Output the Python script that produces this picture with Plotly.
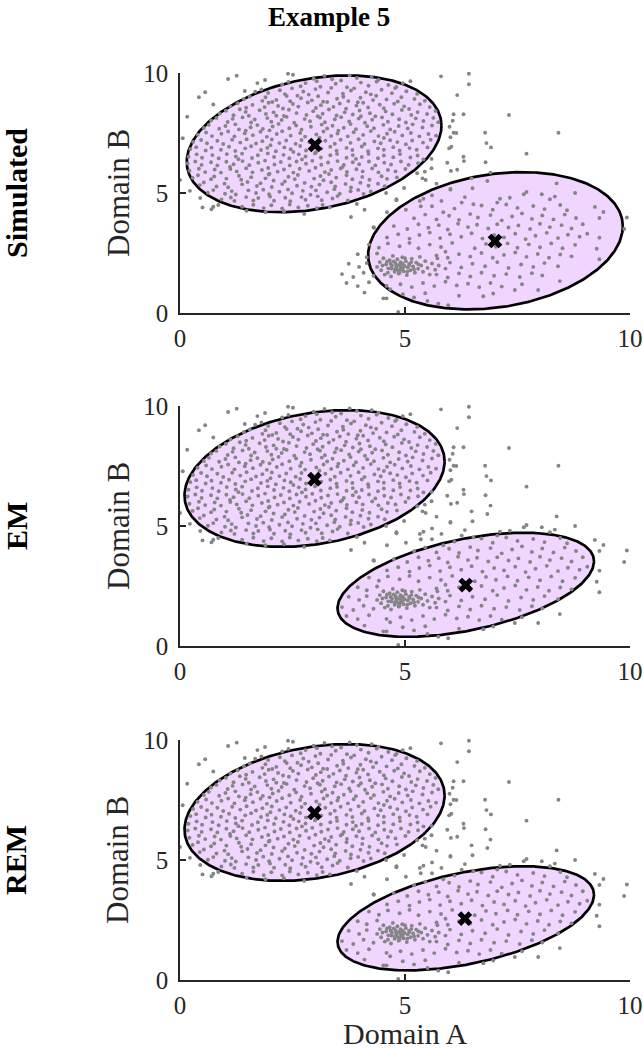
import numpy as np
import plotly.graph_objects as go
from plotly.subplots import make_subplots

# ---------------- data ----------------
cluster_a = [
    (1.07,9.75),(1.26,9.89),(1.89,9.71),(2.40,9.97),(2.51,9.93),(2.97,9.76),(3.21,9.88),(3.38,9.74),(3.77,9.9),(3.93,9.79),(4.26,9.83),(4.41,9.72),
    (2.27,9.52),(2.41,9.63),(2.68,9.45),(2.79,9.58),(3.04,9.66),(3.12,9.43),(3.46,9.55),(3.58,9.69),(3.71,9.41),(4.02,9.6),(4.19,9.47),(4.37,9.64),(4.63,9.5),(4.81,9.42),(4.95,9.58),(5.8,9.86),(6.42,9.97),(6.42,9.53),(1.72,9.58),(1.44,9.25),(1.67,9.22),(5.12,9.66),
    (1.81,9.31),(1.96,9.17),(2.22,9.28),(2.33,9.12),(2.49,9.36),(2.74,9.23),(2.86,9.1),(3.01,9.33),(3.29,9.19),(3.36,9.38),(3.62,9.14),(3.8,9.27),(3.87,9.36),(4.13,9.2),(4.24,9.11),(4.48,9.3),(4.71,9.16),(4.78,9.37),(5.03,9.24),(5.27,9.13),(0.42,8.99),(0.56,9.2),(6.16,9.08),(2.61,9.05),
    (1.42,8.91),(1.55,9.02),(1.83,8.84),(1.9,8.99),(2.14,8.88),(2.37,9.04),(2.45,8.82),(2.69,8.95),(2.93,8.86),(3.07,9.03),(3.18,8.8),(3.49,8.93),(3.63,9.01),(3.74,8.83),(4.01,8.97),(4.29,8.87),(4.36,9.05),(4.59,8.9),(4.84,8.81),(4.92,8.99),(5.21,8.92),(5.44,8.84),(2.05,8.79),(3.95,8.78),
    (0.74,8.69),(1.12,8.61),(1.28,8.74),(1.47,8.55),(1.61,8.67),(1.88,8.58),(1.97,8.76),(2.18,8.63),(2.29,8.52),(2.51,8.71),(2.63,8.6),(2.84,8.77),(3.02,8.54),(3.13,8.66),(3.41,8.59),(3.55,8.73),(3.69,8.51),(3.92,8.64),(4.07,8.76),(4.18,8.56),(4.44,8.68),(4.53,8.53),(4.76,8.72),(4.98,8.61),(5.09,8.5),(5.33,8.7),(5.55,8.58),(3.27,8.79),
    (0.16,8.18),(0.88,8.31),(1.02,8.43),(1.19,8.24),(1.46,8.38),(1.53,8.22),(1.77,8.45),(1.91,8.29),(2.08,8.36),(2.31,8.21),(2.42,8.47),(2.59,8.33),(2.81,8.25),(2.96,8.41),(3.17,8.3),(3.31,8.48),(3.48,8.23),(3.66,8.36),(3.84,8.27),(3.99,8.44),(4.22,8.32),(4.34,8.2),(4.57,8.4),(4.72,8.28),(4.93,8.46),(5.14,8.25),(5.28,8.37),(5.49,8.29),(5.68,8.42),(6.08,8.28),(6.3,8.28),(6.06,8.01),(1.33,8.49),(3.06,8.2),
    (0.69,8.02),(0.81,8.13),(1.06,7.96),(1.17,8.09),(1.39,8.15),(1.58,7.94),(1.66,8.06),(1.94,8.12),(2.03,7.97),(2.26,8.04),(2.37,8.17),(2.54,7.93),(2.77,8.08),(2.89,7.99),(3.11,8.14),(3.22,7.95),(3.44,8.07),(3.58,8.16),(3.76,7.98),(3.97,8.1),(4.11,7.93),(4.27,8.05),(4.49,8.15),(4.62,7.97),(4.87,8.07),(5.02,7.94),(5.24,8.11),(5.41,8.0),(5.63,8.13),(5.74,7.95),(2.14,8.22),(4.02,8.2),
    (0.53,7.71),(0.64,7.84),(0.87,7.68),(1.01,7.79),(1.23,7.86),(1.31,7.65),(1.57,7.74),(1.72,7.83),(1.84,7.67),(2.06,7.77),(2.19,7.88),(2.43,7.7),(2.58,7.81),(2.7,7.64),(2.91,7.76),(3.15,7.85),(3.27,7.69),(3.39,7.8),(3.64,7.72),(3.79,7.87),(3.91,7.66),(4.16,7.78),(4.31,7.7),(4.52,7.84),(4.67,7.65),(4.86,7.79),(5.06,7.69),(5.17,7.86),(5.39,7.73),(5.6,7.81),(5.99,7.76),(6.08,7.51),(6.14,7.5),(1.46,7.6),(3.52,7.6),
    (0.39,7.43),(0.58,7.52),(0.71,7.37),(0.92,7.47),(1.07,7.56),(1.21,7.36),(1.44,7.49),(1.62,7.41),(1.79,7.55),(1.93,7.34),(2.15,7.46),(2.27,7.57),(2.46,7.39),(2.67,7.5),(2.78,7.35),(3.03,7.44),(3.19,7.56),(3.36,7.38),(3.5,7.48),(3.73,7.36),(3.86,7.53),(4.07,7.42),(4.24,7.58),(4.41,7.37),(4.6,7.47),(4.77,7.55),(4.94,7.4),(5.13,7.5),(5.32,7.36),(5.52,7.46),(5.69,7.39),(6.01,7.32),(1.99,7.61),(3.1,7.3),(4.53,7.29),
    (0.06,7.28),(0.29,7.13),(0.47,7.21),(0.6,7.07),(0.83,7.18),(0.96,7.04),(1.16,7.22),(1.34,7.1),(1.48,7.24),(1.69,7.06),(1.83,7.16),(2.04,7.23),(2.21,7.08),(2.36,7.19),(2.57,7.05),(2.7,7.21),(2.88,7.11),(3.23,7.18),(3.44,7.05),(3.57,7.22),(3.79,7.09),(3.97,7.24),(4.1,7.04),(4.32,7.15),(4.46,7.07),(4.67,7.2),(4.83,7.12),(5.02,7.03),(5.16,7.19),(5.4,7.1),(5.57,7.22),(6.03,6.93),(5.98,6.86),
    (0.23,6.83),(0.36,6.91),(0.57,6.77),(0.7,6.89),(0.91,6.8),(1.09,6.93),(1.23,6.75),(1.45,6.86),(1.58,6.95),(1.8,6.79),(1.94,6.88),(2.13,6.74),(2.32,6.9),(2.46,6.82),(2.67,6.96),(2.8,6.77),(3.14,6.85),(3.34,6.93),(3.48,6.76),(3.7,6.88),(3.83,6.79),(4.04,6.94),(4.18,6.74),(4.4,6.86),(4.53,6.8),(4.74,6.91),(4.88,6.77),(5.1,6.87),(5.26,6.8),(5.5,6.9),(6.3,6.51),(6.31,6.33),(2.01,6.99),(3.02,6.7),
    (0.19,6.51),(0.37,6.61),(0.49,6.47),(0.72,6.58),(0.86,6.45),(1.04,6.62),(1.24,6.52),(1.38,6.64),(1.6,6.46),(1.73,6.57),(1.95,6.65),(2.09,6.5),(2.3,6.59),(2.43,6.45),(2.64,6.61),(2.79,6.52),(3.0,6.65),(3.13,6.48),(3.34,6.57),(3.49,6.63),(3.7,6.47),(3.84,6.58),(4.04,6.5),(4.19,6.63),(4.4,6.45),(4.53,6.56),(4.74,6.49),(4.89,6.62),(5.12,6.48),(5.28,6.56),(5.94,6.26),(1.3,6.41),(2.52,6.71),(3.91,6.42),
    (0.17,6.23),(0.34,6.31),(0.48,6.17),(0.69,6.28),(0.83,6.15),(1.03,6.3),(1.19,6.2),(1.39,6.33),(1.54,6.16),(1.74,6.26),(1.89,6.35),(2.1,6.19),(2.24,6.29),(2.44,6.15),(2.59,6.31),(2.8,6.22),(2.94,6.34),(3.14,6.18),(3.29,6.27),(3.5,6.33),(3.64,6.17),(3.84,6.28),(3.98,6.2),(4.2,6.31),(4.34,6.15),(4.54,6.26),(4.69,6.19),(4.91,6.31),(5.08,6.17),(5.29,6.24),(5.41,6.4),(5.59,6.42),(1.11,6.09),(2.71,6.4),(3.61,6.08),
    (0.21,5.93),(0.42,6.01),(0.56,5.87),(0.77,5.98),(0.91,5.85),(1.12,6.0),(1.26,5.9),(1.47,6.03),(1.61,5.86),(1.82,5.96),(1.96,6.04),(2.17,5.89),(2.31,5.98),(2.52,5.85),(2.66,6.01),(2.87,5.92),(3.01,6.05),(3.22,5.87),(3.36,5.96),(3.57,6.02),(3.71,5.88),(3.92,5.99),(4.06,5.9),(4.27,6.02),(4.41,5.86),(4.62,5.96),(4.79,5.9),(5.01,6.0),(5.59,6.03),(5.44,5.89),(5.27,5.82),(6.02,5.92),(6.16,5.97),(1.99,5.8),(3.31,5.79),
    (0.0,5.54),(0.28,5.63),(0.4,5.74),(0.69,5.57),(0.76,5.69),(1.03,5.6),(1.31,5.72),(1.36,5.55),(1.58,5.66),(1.9,5.61),(1.97,5.77),(2.08,5.52),(2.41,5.68),(2.55,5.58),(2.62,5.75),(2.98,5.6),(3.12,5.71),(3.19,5.53),(3.47,5.64),(3.7,5.74),(3.83,5.57),(4.05,5.67),(4.21,5.55),(4.48,5.7),(4.6,5.59),(4.82,5.65),(5.46,5.54),(5.39,5.61),(6.48,5.61),(6.83,5.5),
    (0.44,5.33),(0.53,5.44),(0.81,5.27),(0.99,5.39),(1.07,5.24),(1.38,5.36),(1.5,5.46),(1.71,5.29),(1.79,5.41),(2.04,5.25),(2.27,5.37),(2.33,5.48),(2.6,5.3),(2.77,5.42),(2.92,5.26),(3.1,5.35),(3.36,5.45),(3.45,5.27),(3.68,5.38),(3.8,5.23),(4.01,5.43),(4.19,5.3),(4.4,5.39),(4.55,5.28),(5.7,5.39),(6.01,5.17),(4.98,5.21),
    (0.62,5.01),(0.74,5.12),(1.0,4.97),(1.15,5.08),(1.24,4.94),(1.52,5.11),(1.69,5.0),(1.85,5.14),(1.98,4.95),(2.21,5.05),(2.4,5.15),(2.49,4.99),(2.73,5.09),(2.9,4.93),(3.02,5.11),(3.27,5.03),(3.43,5.16),(3.55,4.97),(3.79,5.07),(3.96,5.13),(4.08,4.96),(4.24,5.06),(4.58,5.0),(0.22,5.09),
    (0.45,4.79),(0.92,4.73),(1.13,4.81),(1.21,4.67),(1.47,4.83),(1.63,4.69),(1.74,4.79),(2.0,4.85),(2.09,4.68),(2.34,4.8),(2.45,4.66),(2.7,4.83),(2.79,4.72),(3.06,4.86),(3.15,4.7),(3.39,4.77),(3.5,4.87),(3.73,4.69),(4.81,4.74),
    (0.5,4.4),(0.7,4.32),(0.74,4.43),(0.85,4.5),(1.38,4.43),(1.48,4.26),(1.63,4.51),(1.86,4.37),(1.9,4.2),(2.03,4.49),(2.27,4.36),(2.31,4.24),(2.44,4.52),(2.63,4.4),(2.76,4.13),(2.84,4.47),(3.04,4.37),(3.17,4.5),(3.33,4.4),(3.93,4.54),(4.3,3.57),
]

cluster_b = [
    (9.22,4.42),(9.41,4.21),(8.78,5.0),(8.33,4.85),(8.22,4.74),(8.04,4.95),(7.7,5.04),(7.64,4.95),(7.33,4.8),(7.11,4.76),(6.33,4.83),(6.52,4.53),(6.26,4.6),(5.81,4.67),(5.33,4.67),(5.41,4.76),(5.02,4.3),(4.81,4.7),(6.01,5.14),
    (5.6,4.45),(6.1,4.35),(6.7,4.48),(6.95,4.3),(7.25,4.52),(7.5,4.38),(7.85,4.46),(8.1,4.33),(8.45,4.5),(8.6,4.28),(5.85,4.2),(7.05,4.6),
    (5.2,3.95),(5.45,4.1),(5.7,3.9),(5.98,4.05),(6.2,3.88),(6.45,4.12),(6.62,3.98),(6.9,4.08),(7.15,3.86),(7.38,4.02),(7.6,4.15),(7.82,3.92),(8.05,4.06),(8.3,3.9),(8.55,4.1),(8.8,3.96),(9.32,3.96),(9.93,3.98),
    (4.31,3.55),(4.75,3.62),(5.05,3.5),(5.3,3.7),(5.52,3.55),(5.75,3.66),(5.95,3.48),(6.18,3.72),(6.4,3.58),(6.6,3.68),(6.85,3.52),(7.05,3.7),(7.3,3.56),(7.52,3.65),(7.78,3.5),(8.0,3.72),(8.22,3.58),(8.48,3.66),(8.7,3.52),(8.95,3.7),(9.87,3.5),
    (4.6,3.15),(4.85,3.28),(5.1,3.1),(5.32,3.25),(5.55,3.35),(5.78,3.12),(6.0,3.28),(6.25,3.18),(6.48,3.32),(6.72,3.1),(6.98,3.25),(7.2,3.15),(7.45,3.3),(7.68,3.08),(7.9,3.22),(8.15,3.34),(8.4,3.12),(8.62,3.26),(8.88,3.18),(9.32,3.14),(9.05,3.3),
    (4.2,2.85),(4.42,2.72),(4.62,2.9),(4.88,2.78),(5.1,2.92),(5.3,2.7),(5.55,2.85),(5.8,2.75),(6.05,2.92),(6.55,2.7),(6.8,2.88),(7.02,2.76),(7.28,2.9),(7.5,2.72),(7.75,2.86),(8.0,2.74),(8.25,2.9),(8.5,2.7),(8.78,2.84),(9.26,2.68),
    (3.95,2.45),(4.15,2.32),(4.38,2.48),(5.7,2.4),(5.95,2.3),(6.2,2.45),(6.45,2.35),(6.7,2.5),(6.95,2.3),(7.2,2.42),(7.45,2.52),(7.7,2.34),(7.95,2.46),(8.2,2.3),(8.45,2.44),(8.7,2.36),(9.32,2.24),(5.9,2.55),
    (3.75,2.05),(3.98,1.92),(4.15,2.08),(5.75,1.98),(6.0,2.1),(6.25,1.9),(6.5,2.05),(6.78,1.95),(7.05,2.12),(7.3,1.88),(7.58,2.02),(7.85,1.92),(8.1,2.08),(8.4,1.95),(5.9,1.85),
    (3.6,1.62),(3.85,1.5),(4.08,1.68),(4.3,1.55),(5.7,1.6),(5.95,1.48),(6.2,1.65),(6.45,1.52),(6.7,1.68),(6.98,1.55),(7.25,1.62),(7.55,1.5),(7.82,1.66),(8.05,1.56),(8.44,1.33),
    (3.7,1.25),(3.95,1.12),(4.2,1.28),(4.59,1.13),(4.67,0.99),(4.9,1.2),(5.15,1.08),(5.4,1.25),(5.65,1.12),(5.9,1.3),(6.15,1.15),(6.4,1.22),(6.65,1.08),(6.9,1.25),(7.15,1.1),(7.44,0.96),(7.96,0.96),(7.6,1.2),
    (4.1,0.85),(4.52,0.61),(4.59,0.61),(4.95,0.78),(5.2,0.65),(5.45,0.82),(5.74,0.39),(5.96,0.32),(6.74,0.7),(6.96,0.81),(6.2,0.72),(4.85,0.04),(5.5,0.5),
]

dense_b = [
    (4.38,1.92),(4.44,2.12),(4.47,1.78),(4.52,2.28),(4.55,1.6),(4.58,2.02),(4.63,1.86),(4.66,2.2),(4.69,1.52),(4.71,1.97),(4.73,2.38),(4.77,1.72),(4.79,2.08),(4.81,1.9),(4.83,2.24),(4.86,1.64),(4.87,2.0),(4.9,2.12),(4.91,1.82),(4.94,2.32),(4.97,1.74),(4.99,1.96),(5.02,2.16),(5.04,1.58),(5.06,1.9),(5.09,2.04),(5.12,1.78),(5.15,2.26),(5.18,1.94),(5.22,1.68),(5.25,2.1),(5.29,1.84),(5.33,2.34),(5.36,1.98),(5.4,1.72),(5.45,2.16),(5.5,1.88),(5.55,1.6),(5.6,2.06),(5.67,1.8),(5.72,2.28),(4.62,1.68),(4.85,1.78),(4.75,2.15),(4.95,1.88),(5.0,2.28),(4.7,1.85),(4.9,1.95),(5.1,2.0),(4.8,2.0),(4.6,2.15),(5.2,1.82),(4.5,1.98),(4.95,2.05),(5.05,1.72),(4.88,1.68),(4.78,1.82),(5.3,2.02),(4.68,2.05),(5.14,2.12),
]

strays = [
    (6.78,7.51),(6.81,7.08),(6.91,6.9),(6.79,6.28),(7.31,8.25),(8.41,7.51),(7.7,6.64),(8.37,5.4),(5.35,4.45),(5.6,4.9),(6.5,5.2),(4.1,4.3),(4.6,4.2),(3.8,4.0),(6.9,5.85),
]

panel_names = ["Simulated", "EM", "REM"]
# fitted Gaussian ellipses per panel: (centre x, centre y, half-width x, half-height y, correlation)
ellipses = [
    [(2.98, 7.05, 2.83, 2.85, 0.265), (7.01, 3.01, 2.83, 2.86, 0.21)],
    [(2.99, 6.98, 2.89, 2.85, 0.25), (6.35, 2.55, 2.85, 2.17, 0.45)],
    [(2.99, 6.98, 2.89, 2.85, 0.25), (6.35, 2.57, 2.85, 2.17, 0.45)],
]
means = [
    [(3.0, 7.0), (7.0, 3.0)],
    [(2.99, 6.95), (6.35, 2.54)],
    [(2.99, 6.96), (6.33, 2.56)],
]
tick_vals = [0, 5, 10]
tick_text = ["0", "5", "10"]
title_text = "Example 5"
x_label = "Domain A"
y_label = "Domain B"

# ---------------- figure ----------------
FONT = "Liberation Serif, DejaVu Serif, serif"
AX = "#262626"
FILL = "rgb(240,213,255)"
DOT = "#858585"

points = cluster_a + cluster_b + dense_b + strays
px = [p[0] for p in points]
py = [p[1] for p in points]

fig = make_subplots(rows=3, cols=1)
t = np.linspace(0, 2 * np.pi, 361)
for r in range(3):
    for (cx, cy, sx, sy, rho) in ellipses[r]:
        ex = cx + sx * np.cos(t)
        ey = cy + sy * (rho * np.cos(t) + np.sqrt(1 - rho ** 2) * np.sin(t))
        fig.add_trace(go.Scatter(x=ex, y=ey, mode="lines", fill="toself", fillcolor=FILL,
                                 line=dict(color="black", width=2.7), hoverinfo="skip",
                                 showlegend=False), row=r + 1, col=1)
    fig.add_trace(go.Scatter(x=px, y=py, mode="markers",
                             marker=dict(size=3.9, color=DOT, line=dict(width=0)),
                             showlegend=False, cliponaxis=False), row=r + 1, col=1)
    fig.add_trace(go.Scatter(x=[m[0] for m in means[r]], y=[m[1] for m in means[r]], mode="markers",
                             marker=dict(symbol="x", size=13, color="black", line=dict(width=0)),
                             showlegend=False), row=r + 1, col=1)

H_PLOT = 907.0
doms = [((980 - 313) / H_PLOT, 1.0), ((980 - 646) / H_PLOT, (980 - 406) / H_PLOT), (0.0, 240 / H_PLOT)]
for r in range(3):
    sfx = "" if r == 0 else str(r + 1)
    common = dict(range=[0, 10], tickvals=tick_vals, ticktext=tick_text,
                  showline=True, linecolor=AX, linewidth=1.6, ticks="inside",
                  ticklen=6, tickwidth=1.6, tickcolor=AX, showgrid=False, zeroline=False,
                  tickfont=dict(family=FONT, size=25, color=AX), automargin=False)
    fig.layout["xaxis" + sfx].update(ticklabelstandoff=2, **common)
    fig.layout["yaxis" + sfx].update(domain=list(doms[r]), ticklabelstandoff=5, **common)
    yref = "y" + sfx + " domain"
    fig.add_annotation(text=y_label, xref="paper", yref=yref, x=(118 - 180) / 450, y=0.5,
                       textangle=-90, showarrow=False, xanchor="center", yanchor="middle",
                       font=dict(family=FONT, size=31, color=AX))
    fig.add_annotation(text="<b>" + panel_names[r] + "</b>", xref="paper", yref=yref,
                       x=(16 - 180) / 450, y=0.5, textangle=-90, showarrow=False,
                       xanchor="center", yanchor="middle", font=dict(family=FONT, size=30, color="black"))

fig.add_annotation(text=x_label, xref="paper", yref="paper", x=0.5, y=(980 - 1033) / H_PLOT,
                   showarrow=False, xanchor="center", yanchor="middle",
                   font=dict(family=FONT, size=30, color=AX))
fig.add_annotation(text="<b>" + title_text + "</b>", xref="paper", yref="paper",
                   x=(329 - 180) / 450, y=(980 - 17) / H_PLOT, showarrow=False,
                   xanchor="center", yanchor="middle", font=dict(family=FONT, size=27, color="black"))

fig.update_layout(width=643, height=1050, margin=dict(l=180, r=13, t=73, b=70, autoexpand=False),
                  plot_bgcolor="white", paper_bgcolor="white", showlegend=False)
fig.write_html("out.html", config={"displayModeBar": False},
               post_script="document.body.style.margin='0px';document.body.style.overflow='hidden';")
